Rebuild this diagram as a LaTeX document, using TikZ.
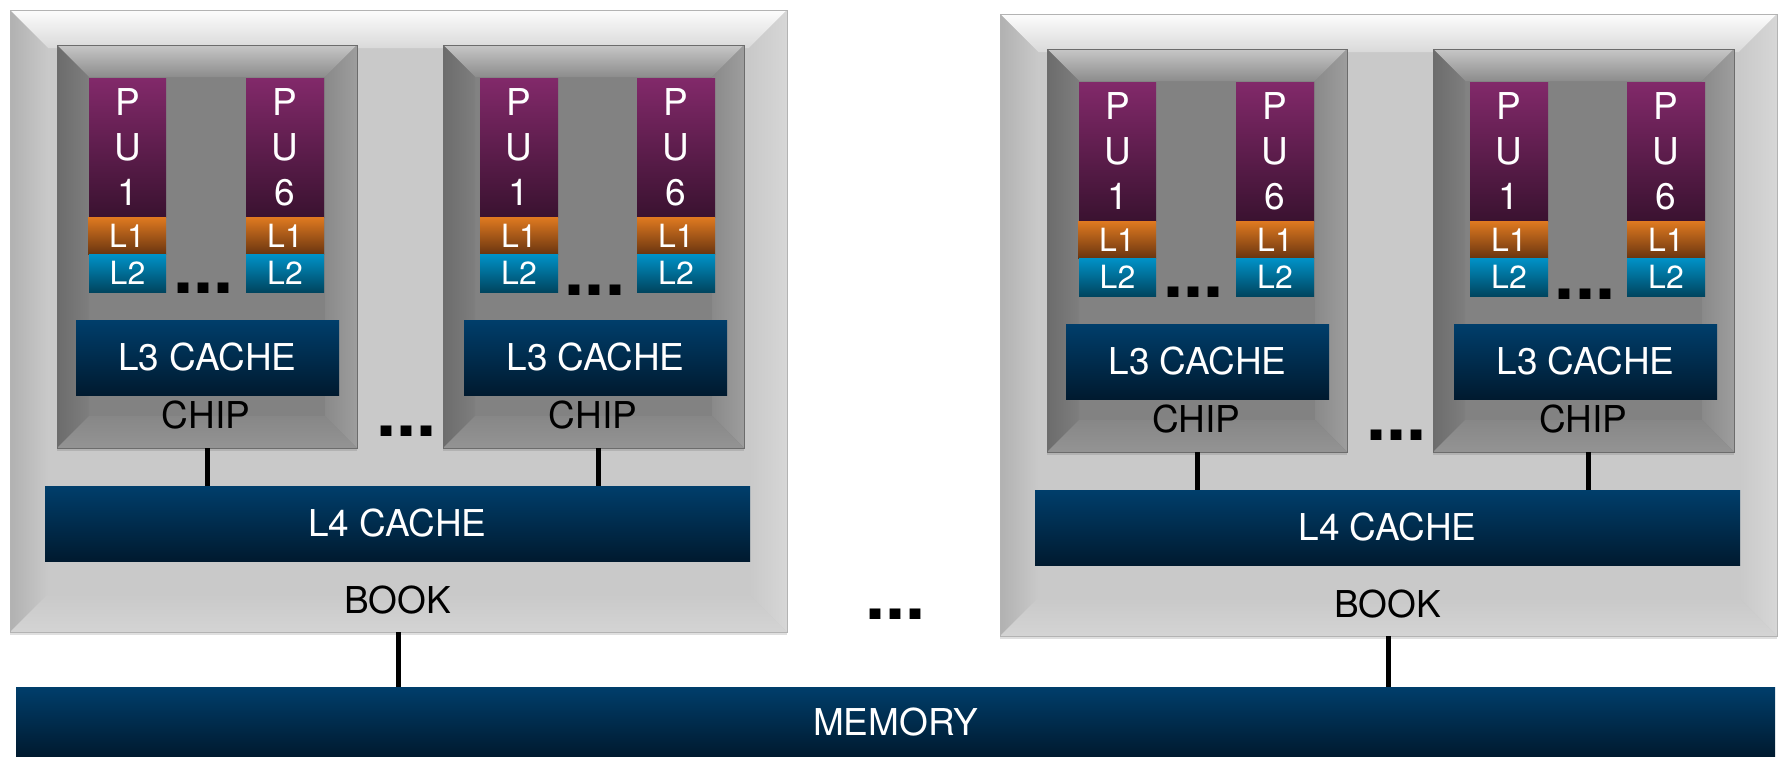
\documentclass[tikz,border=0pt]{standalone}
\usepackage{fontspec}
\setmainfont{TeX Gyre Heros}
\usetikzlibrary{shadows}

\definecolor{bookface}{HTML}{C9C9C9}
\definecolor{bookedge}{HTML}{B3B3B3}
\definecolor{chipface}{HTML}{828282}
\definecolor{chipedge}{HTML}{6C6C6C}
\definecolor{putop}{HTML}{82296A}
\definecolor{pubot}{HTML}{3A1230}
\definecolor{lonetop}{HTML}{E07A20}
\definecolor{lonebot}{HTML}{6A3510}
\definecolor{ltwotop}{HTML}{0092C8}
\definecolor{ltwobot}{HTML}{00455F}
\definecolor{bartop}{HTML}{003E6B}
\definecolor{barbot}{HTML}{001A2F}

% bevel: #1 width, #2/#3 top outer/inner, #4/#5 left outer/inner,
% #6/#7 right outer/inner, #8/#9 bottom outer/inner
\newcommand\bevelfill[9]{%
  \path (path picture bounding box.north west) coordinate (bvA)
        (path picture bounding box.south east) coordinate (bvC);
  \path (bvA -| bvC) coordinate (bvB) (bvC -| bvA) coordinate (bvD);
  \path (bvA) ++(#1,-#1) coordinate (bva);
  \path (bvB) ++(-#1,-#1) coordinate (bvb);
  \path (bvC) ++(-#1,#1) coordinate (bvc);
  \path (bvD) ++(#1,#1) coordinate (bvd);
  \shade[top color=#2,bottom color=#3] (bvA)--(bvB)--(bvb)--(bva)--cycle;
  \shade[left color=#4,right color=#5] (bvA)--(bva)--(bvd)--(bvD)--cycle;
  \shade[left color=#7,right color=#6] (bvB)--(bvC)--(bvc)--(bvb)--cycle;
  \shade[top color=#9,bottom color=#8] (bvd)--(bvc)--(bvC)--(bvD)--cycle;
}

\tikzset{
  base/.style={rectangle, inner sep=0pt, outer sep=0pt},
  bookbox/.style={base, fill=bookface, draw=bookedge, line width=0.8pt,
    drop shadow={shadow xshift=0pt, shadow yshift=-3pt, opacity=0.25},
    path picture={\bevelfill{38pt}{white!95!bookface}{white!30!bookface}%
      {black!12!bookface}{bookface}{white!25!bookface}{bookface}%
      {white!20!bookface}{bookface}}},
  chipbox/.style={base, fill=chipface, draw=chipedge, line width=0.8pt,
    drop shadow={shadow xshift=0pt, shadow yshift=-3pt, opacity=0.3},
    path picture={\bevelfill{32pt}{white!55!chipface}{white!8!chipface}%
      {black!17!chipface}{black!3!chipface}{white!22!chipface}{white!6!chipface}%
      {white!14!chipface}{white!4!chipface}}},
  pubox/.style={base, top color=putop, bottom color=pubot, text=white,
    minimum width=77pt, minimum height=139pt, align=center,
    font=\fontsize{37}{45}\selectfont},
  lonebox/.style={base, top color=lonetop, bottom color=lonebot, text=white,
    minimum width=78pt, minimum height=37pt, font=\fontsize{32}{38}\selectfont},
  ltwobox/.style={base, top color=ltwotop, bottom color=ltwobot, text=white,
    minimum width=77pt, minimum height=38pt, font=\fontsize{32}{38}\selectfont},
  barbox/.style={base, top color=bartop, bottom color=barbot, text=white,
    font=\fontsize{37}{45}\selectfont},
  lbl/.style={base, anchor=base, text=black, font=\fontsize{37}{45}\selectfont},
  dots/.style={base, anchor=base, text=black, font=\fontsize{72}{80}\selectfont\bfseries},
  conn/.style={line width=5pt, black},
}

\begin{document}
\begin{tikzpicture}[x=1pt, y=-1pt]
\fill[white] (0,0) rectangle (1779,756);
\useasboundingbox (0,0) rectangle (1779,756);

\node[barbox, minimum width=1759pt, minimum height=69pt] (mem) at (895.5,721.5) {MEMORY};

\foreach \sx/\sy/\pf in {0/0/L, 990/4/R}{
\begin{scope}[shift={(\sx,\sy)}, name prefix=\pf-]
  \node[bookbox, minimum width=777pt, minimum height=622pt] (book) at (398.5,321) {};
  \node[chipbox, minimum width=300pt, minimum height=403pt] (chipA) at (207,246.5) {};
  \node[chipbox, minimum width=301pt, minimum height=403pt] (chipB) at (593.5,246.5) {};

  % chip A
  \node[pubox] (a-pu1) at (127.5,147.5) {P\\U\\1};
  \node[lonebox] (a-l1a) at (127,235.5) {L1};
  \node[ltwobox] (a-l2a) at (127.5,273) {L2};
  \node[pubox, minimum width=78pt] (a-pu6) at (285,147.5) {P\\U\\6};
  \node[lonebox] (a-l1b) at (285,235.5) {L1};
  \node[ltwobox, minimum width=78pt] (a-l2b) at (285,273) {L2};
  \node[dots] (a-dots) at (203.5,293.8) {...};
  \node[barbox, minimum width=263pt, minimum height=75pt] (a-l3) at (207.5,357.5) {L3 CACHE};
  \node[lbl] (a-lbl) at (206,428) {CHIP};

  % chip B
  \node[pubox, minimum width=78pt] (b-pu1) at (519,147.5) {P\\U\\1};
  \node[lonebox] (b-l1a) at (519,235.5) {L1};
  \node[ltwobox, minimum width=78pt] (b-l2a) at (519,273) {L2};
  \node[pubox, minimum width=78pt] (b-pu6) at (676,147.5) {P\\U\\6};
  \node[lonebox] (b-l1b) at (676,235.5) {L1};
  \node[ltwobox, minimum width=78pt] (b-l2b) at (676,273) {L2};
  \node[dots] (b-dots) at (595,295.3) {...};
  \node[barbox, minimum width=263pt, minimum height=75pt] (b-l3) at (595.5,357.5) {L3 CACHE};
  \node[lbl] (b-lbl) at (593,428) {CHIP};

  \node[dots] (chipdots) at (406.5,436.3) {...};

  \node[barbox, minimum width=705pt, minimum height=75pt] (l4) at (397.5,523.5) {L4 CACHE};
  \node[lbl] (booklbl) at (397.5,613) {BOOK};

  \draw[conn] (chipA.south) -- (chipA.south |- l4.north);
  \draw[conn] ([xshift=4.5pt]chipB.south) -- ([xshift=4.5pt]chipB.south |- l4.north);
\end{scope}
}

\draw[conn] (L-book.south) -- (L-book.south |- mem.north);
\draw[conn] (R-book.south) -- (R-book.south |- mem.north);

\node[dots] (bookdots) at (895.5,619.3) {...};
\end{tikzpicture}
\end{document}
